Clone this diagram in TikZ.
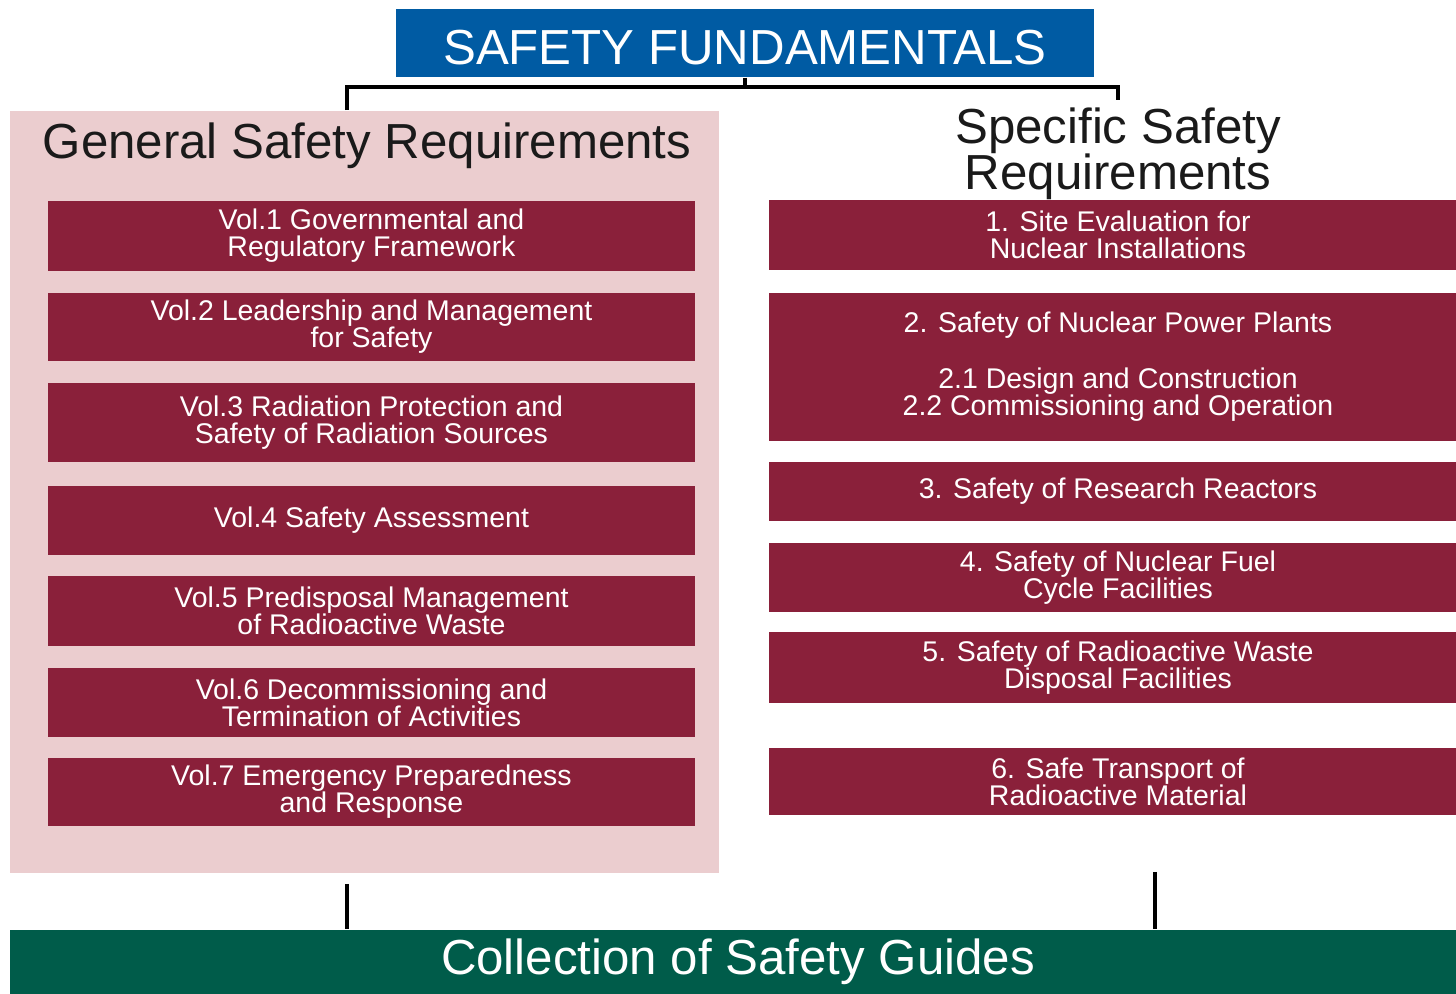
\documentclass[tikz,border=0pt]{standalone}
\usepackage{fontspec}
\setmainfont{Liberation Sans}
\definecolor{sfblue}{RGB}{0,91,163}
\definecolor{volred}{RGB}{138,32,58}
\definecolor{gsrpink}{RGB}{235,205,207}
\definecolor{csggreen}{RGB}{0,92,74}
\definecolor{titleink}{RGB}{26,26,26}
\newcommand\headfont{\fontsize{14}{13}\selectfont\lineskiplimit -20pt\relax}
\newcommand\volfont{\fontsize{8.1}{7.7}\selectfont\lineskiplimit -20pt\relax}
\begin{document}
\begin{tikzpicture}[
x=0.01cm, y=-0.01cm,
every node/.style = {inner sep=0pt, align=center},
head/.style = {font=\headfont, text=titleink},
vol/.style = {fill=volred, text=white, minimum width=6.47cm, font=\volfont},
spec/.style = {vol, minimum width=6.98cm},
link/.style = {line width=1.1pt, black},
]
\useasboundingbox (0,0) rectangle (1456,994);
\clip (0,0) rectangle (1456,994);
% top
\node[fill=sfblue, head, text=white, minimum width=6.98cm, minimum height=0.68cm, text height=12.5pt] (sf) at (745,43) {SAFETY FUNDAMENTALS};
% general requirements
\node[fill=gsrpink, minimum width=7.09cm, minimum height=7.62cm] (gsr) at (364.5,492) {};
\node[head] (gsrt) at (367,146) {General Safety Requirements};
\node[vol, minimum height=0.70cm] (v1) at (371.5,236) {Vol.1 Governmental and\\Regulatory Framework};
\node[vol, minimum height=0.68cm] (v2) at (371.5,327) {Vol.2 Leadership and Management\\for Safety};
\node[vol, minimum height=0.79cm] (v3) at (371.5,422.5) {Vol.3 Radiation Protection and\\Safety of Radiation Sources};
\node[vol, minimum height=0.69cm] (v4) at (371.5,520.5) {Vol.4 Safety Assessment};
\node[vol, minimum height=0.70cm] (v5) at (371.5,611) {Vol.5 Predisposal Management\\of Radioactive Waste};
\node[vol, minimum height=0.69cm] (v6) at (371.5,702.5) {Vol.6 Decommissioning and\\Termination of Activities};
\node[vol, minimum height=0.68cm] (v7) at (371.5,792) {Vol.7 Emergency Preparedness\\and Response};
% specific requirements
\node[head] (ssrt) at (1118,154) {Specific Safety\\Requirements};
\node[spec, minimum height=0.70cm] (s1) at (1118,235) {1. Site Evaluation for\\Nuclear Installations};
\node[spec, minimum height=1.48cm] (s2) at (1118,367) {2. Safety of Nuclear Power Plants\\[8.2pt]2.1 Design and Construction\\2.2 Commissioning and Operation};
\node[spec, minimum height=0.59cm] (s3) at (1118,491.5) {3. Safety of Research Reactors};
\node[spec, minimum height=0.69cm] (s4) at (1118,577.5) {4. Safety of Nuclear Fuel\\Cycle Facilities};
\node[spec, minimum height=0.71cm] (s5) at (1118,667.5) {5. Safety of Radioactive Waste\\Disposal Facilities};
\node[spec, minimum height=0.67cm] (s6) at (1118,781.5) {6. Safe Transport of\\Radioactive Material};
% guides
\node[fill=csggreen, head, text=white, minimum width=14.56cm, minimum height=0.64cm] (csg) at (738,962) {Collection of Safety Guides};
% connectors
\coordinate (jl) at (347,87);
\coordinate (jr) at (1118,87);
\coordinate (jre) at (1118,100);
\coordinate (bl) at (347,884);
\coordinate (br) at (1155,872);
\draw[link] (sf.south) -- (sf.south |- jl);
\draw[link] (gsr.north -| jl) -- (jl) -- (jr) -- (jre);
\draw[link] (bl) -- (bl |- csg.north);
\draw[link] (br) -- (br |- csg.north);
\end{tikzpicture}
\end{document}
